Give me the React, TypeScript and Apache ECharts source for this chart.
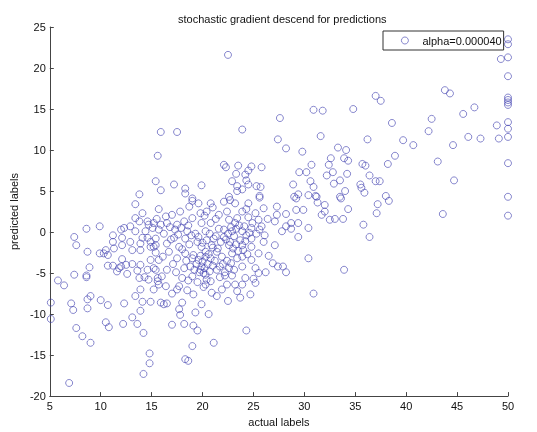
import React, { useEffect, useRef } from "react";
import * as echarts from "echarts";

const titleText = "stochastic gradient descend for predictions";
const xName = "actual labels";
const yName = "predicted labels";
const legendName = "alpha=0.000040";
const xTicks = { min: 5, max: 50, step: 5 };
const yTicks = { min: -20, max: 25, step: 5 };

// [actual, predicted] pairs
const lowRange: number[][] = [
  [15.9, 12.2], [15.6, 9.3], [15.4, 6.2], [13.8, 4.6], [15.9, 5.1],
  [13.4, 3.4], [15.7, 2.8], [14.1, 2.3], [13.4, 1.7], [13.8, 1.3], [14.6, 1.3], [14.7, 0.9], [15.5, 1.6], [15.9, 0.9], [12.9, 0.7], [12.0, 0.3], [12.3, 0.5], [9.9, 0.7], [8.6, 0.4], [13.4, 0.1], [14.4, 0.1], [15.1, 0.5],
  [11.2, -0.4], [12.1, -0.7], [14.1, -0.7], [14.6, -0.7], [7.4, -0.6], [11.2, -1.2], [12.9, -1.2], [13.9, -1.4], [14.9, -1.2], [7.6, -1.6], [14.9, -1.8], [15.4, -1.6], [12.1, -1.6], [11.3, -2.0], [10.5, -2.2], [13.1, -2.2], [13.9, -2.2], [8.7, -2.4], [10.3, -2.6], [10.7, -2.8], [9.9, -2.6], [15.4, -2.5],
  [14.9, -3.4], [12.1, -3.3], [13.1, -3.9], [13.9, -4.0], [12.5, -4.0], [10.7, -4.1], [11.2, -4.1], [8.9, -4.3], [11.8, -4.4], [12.0, -4.2], [11.6, -4.8], [12.6, -5.1], [13.6, -4.7], [14.6, -4.6], [15.4, -4.6], [7.4, -5.2], [8.6, -5.3], [8.6, -5.5], [5.8, -5.9], [6.4, -6.5], [13.8, -5.6], [14.3, -5.5], [14.7, -5.8], [15.6, -6.0], [15.7, -6.4], [15.2, -7.0], [13.9, -7.0], [13.4, -7.8], [9.0, -7.8], [8.7, -8.2], [10.0, -8.3], [5.1, -8.6], [7.1, -8.7], [10.7, -8.9], [12.3, -8.7], [14.1, -8.5], [14.9, -8.5], [15.9, -8.6], [7.3, -9.5], [8.7, -9.3], [13.9, -9.6], [13.1, -10.4], [5.1, -10.6], [10.5, -11.0], [10.8, -11.6], [12.2, -11.2], [13.6, -11.2], [7.6, -11.7], [14.2, -12.3], [8.2, -12.7], [9.0, -13.5], [14.8, -14.8], [14.8, -16.0], [14.2, -17.3], [6.9, -18.4],
];

const midUpper: number[][] = [
  [22.5, 21.6], [17.5, 12.2], [23.9, 12.5], [27.6, 13.9], [27.4, 11.3], [22.1, 8.2], [22.3, 7.9], [23.5, 8.1], [24.8, 8.0], [25.8, 7.9], [24.5, 7.5], [24.2, 7.0], [23.3, 7.1], [22.9, 6.2], [24.3, 6.3], [17.2, 5.8], [19.9, 5.7], [18.3, 5.3], [23.4, 5.6], [23.9, 5.2], [24.5, 5.8], [25.3, 5.6], [25.7, 5.5], [18.3, 4.7], [22.6, 4.3], [25.6, 4.4], [19.0, 4.1],
];

const midCluster: number[][] = [
  [23.4, 5.0], [25.6, 4.2], [19.0, 3.8], [19.6, 3.5], [20.8, 3.5], [22.1, 3.7], [22.7, 3.9], [23.2, 3.5], [24.5, 3.5], [17.8, 2.5], [19.8, 2.3], [20.4, 2.5], [21.6, 2.1], [22.4, 2.5], [23.9, 2.5], [24.3, 2.8], [25.2, 2.3], [27.3, 3.1], [27.3, 2.1], [16.4, 1.9], [17.0, 2.1], [19.0, 1.7], [18.2, 1.3], [22.6, 1.5], [23.4, 1.7], [24.5, 1.8], [25.5, 1.5], [27.1, 1.3], [15.2, 1.1], [16.5, 1.1], [17.5, 0.9], [19.9, 1.1], [20.8, 1.1], [22.1, 0.3], [23.9, 0.1], [24.8, 0.5], [25.8, 0.7], [15.7, 0.3], [17.3, 0.3], [18.5, 0.1], [19.3, -0.2], [20.3, 0.1], [22.9, 0.1], [24.3, -0.4], [25.3, -0.2], [15.4, -0.8], [17.2, -0.7], [18.3, -0.8], [19.5, -1.2], [20.4, -1.0], [21.1, -0.8], [22.1, -0.6], [23.7, -1.0], [24.8, -0.8], [26.0, -1.2], [15.2, -1.8], [16.5, -1.4], [17.7, -1.8], [19.9, -1.8], [20.9, -1.6], [22.6, -1.6], [23.9, -1.6], [24.8, -1.8], [27.1, -1.6], [16.7, -2.4], [18.3, -2.6], [19.1, -2.8], [20.3, -2.4], [21.4, -2.4], [22.9, -2.6], [23.9, -3.0], [25.5, -2.6], [15.7, -3.4], [17.5, -3.2], [19.0, -3.2], [19.6, -3.4], [20.8, -3.2], [21.9, -3.0], [23.4, -3.2], [24.8, -3.4], [26.9, -3.8], [27.4, -4.2], [15.2, -4.4], [16.5, -4.6], [18.2, -4.4], [18.8, -4.2], [19.9, -4.2], [19.8, -4.6], [21.7, -4.2], [22.6, -4.4], [23.9, -4.2], [25.2, -4.4], [15.6, -5.6], [16.0, -5.4], [18.0, -5.6], [19.0, -5.4], [20.3, -5.2], [20.4, -5.8], [22.2, -5.3], [22.9, -5.3], [25.5, -5.0], [16.4, -6.6], [17.7, -6.6], [20.3, -6.4], [22.4, -6.4], [23.2, -6.4], [23.9, -6.4], [25.2, -6.2], [17.0, -7.5], [17.5, -7.0], [20.1, -6.7], [20.9, -7.4], [21.4, -7.8], [24.7, -7.6], [23.7, -8.0], [16.5, -8.7], [18.0, -8.6], [19.9, -8.8], [16.2, -8.8], [17.7, -9.4], [17.8, -10.1], [19.3, -9.8], [20.6, -10.0], [17.0, -11.3], [18.2, -11.2], [19.1, -11.4], [19.5, -12.0], [24.3, -12.0], [21.1, -13.5], [19.0, -13.9], [18.3, -15.5], [18.6, -15.7],
];

const midDense: number[][] = [
  [19.4, -3.9], [19.7, -4.9], [20.0, -3.6], [20.2, -4.4], [20.5, -3.9], [20.1, -5.0], [19.2, -4.6], [20.7, -4.8], [21.0, -4.1], [20.3, -3.0], [19.8, -2.9], [20.6, -2.7], [21.2, -3.5], [21.5, -2.0], [21.0, -1.9], [20.0, -1.3], [19.6, -0.6], [20.7, -0.2], [21.3, -0.5], [21.6, 0.4], [21.8, -1.2], [22.3, -0.9], [22.5, -0.2], [22.8, 0.6], [23.1, -0.5], [23.3, 0.4], [23.6, 0.8], [23.2, 1.1], [22.7, -1.2], [23.0, -2.0], [23.5, -2.3], [23.3, -1.5], [24.0, -2.2], [24.2, -1.1], [24.6, -0.1], [24.1, 0.7], [24.9, 1.1], [24.4, -2.7], [22.4, -3.5], [22.0, -3.9], [22.8, -3.8], [23.1, -4.6], [22.2, -4.9], [21.4, -4.6], [21.7, -5.5], [20.8, -6.0], [19.5, -6.1], [18.6, -5.9], [18.4, -3.5], [18.0, -2.1], [18.7, -1.5], [18.9, -0.4], [17.9, 0.5], [18.6, 0.8], [17.6, -0.3], [16.9, -0.9], [16.2, -0.2], [16.8, 0.6], [16.1, -3.0], [17.1, -3.9], [17.4, -4.9], [18.5, -7.1], [19.1, -7.6], [21.9, -7.0], [22.5, -8.4], [23.4, -7.2], [24.2, -5.6], [25.0, -5.7], [26.2, -4.9], [26.5, -2.9], [26.1, -0.4], [25.6, 0.3], [26.4, 1.6], [26.0, 2.9], [21.3, 1.6], [20.2, 2.0], [21.0, 3.0], [18.7, 3.1],
];

const highRange: number[][] = [
  [37.0, 16.6], [37.5, 16.0], [30.9, 14.9], [31.8, 14.8], [34.8, 15.0], [38.6, 13.3], [28.2, 10.2], [29.8, 9.8], [31.6, 11.7], [36.2, 11.3], [33.3, 10.3], [34.1, 10.0], [33.9, 9.0], [34.3, 8.7], [32.6, 9.0], [30.7, 8.2], [32.4, 8.2], [35.7, 8.3], [36.0, 8.1], [38.2, 8.3], [38.9, 9.3], [29.5, 7.3], [30.2, 7.3], [32.8, 7.3], [34.2, 7.1], [36.4, 6.9], [37.0, 6.2], [37.4, 6.2], [28.9, 5.8], [30.6, 6.2], [30.9, 5.5], [32.2, 6.9], [32.9, 5.9], [33.5, 6.3], [35.5, 5.8], [35.6, 5.4], [35.9, 4.8], [34.0, 5.0], [29.4, 4.6], [30.4, 4.5], [31.1, 4.4], [38.0, 4.4], [33.5, 4.3], [29.0, 4.3],
  [29.2, 4.1], [31.2, 4.3], [38.3, 3.8], [33.6, 4.1], [31.3, 3.6], [32.0, 3.3], [37.2, 3.4], [29.2, 2.7], [29.9, 2.7], [32.0, 2.5], [34.3, 2.8], [37.1, 2.3], [28.2, 2.2], [31.7, 2.1], [32.5, 1.5], [33.0, 1.6], [33.8, 1.6], [28.7, 1.1], [29.4, 1.1], [28.2, 0.7], [28.7, 0.4], [30.4, 0.5], [27.8, 0.1], [35.8, 0.9], [29.4, -0.6], [36.4, -0.6], [30.4, -3.2], [28.2, -4.9], [27.9, -4.2], [33.9, -4.6], [30.9, -7.5],
];

const topRange: number[][] = [
  [43.8, 17.3], [44.3, 16.9], [46.7, 15.2], [45.6, 14.4], [42.5, 13.8], [48.9, 13.0], [42.2, 12.3], [46.1, 11.6], [47.3, 11.4], [49.1, 11.4], [49.3, 21.1], [39.7, 11.2], [40.7, 10.6], [44.6, 10.6], [43.1, 8.6], [44.7, 6.3], [43.6, 2.2],
];

const cappedAt50: number[][] = [
  [50, 23.5], [50, 22.9], [50, 21.3], [50, 19.0], [50, 16.4], [50, 16.1], [50, 15.8], [50, 15.5], [50, 13.4], [50, 12.6], [50, 11.6], [50, 8.4], [50, 4.3], [50, 2.0],
];

const FONT = "'Liberation Sans', Arial, sans-serif";
const MARK = "#4242b0";

export default function App() {
  const ref = useRef<HTMLDivElement>(null);
  useEffect(() => {
    if (!ref.current) return;
    const chart = echarts.init(ref.current, undefined, { renderer: "svg" });
    const points = [...lowRange, ...midUpper, ...midCluster, ...midDense, ...highRange, ...topRange, ...cappedAt50];
    const axisCommon = {
      type: "value",
      nameLocation: "middle",
      nameTextStyle: { fontSize: 11, color: "#111", fontFamily: FONT },
      axisLine: { show: true, onZero: false, lineStyle: { color: "#444", width: 1 } },
      axisTick: { show: true, inside: true, length: 4, lineStyle: { color: "#444" } },
      axisLabel: { fontSize: 11, color: "#111", fontFamily: FONT },
      splitLine: { show: false },
    };
    chart.setOption({
      animation: false,
      textStyle: { fontFamily: FONT },
      title: {
        text: titleText,
        left: 173,
        top: 8,
        textStyle: { fontSize: 11, fontWeight: "normal", color: "#111", fontFamily: FONT },
      },
      legend: {
        data: [legendName],
        left: 383,
        top: 31,
        icon: "circle",
        itemWidth: 25,
        itemHeight: 7,
        symbolKeepAspect: true,
        padding: [4, 2, 4, 18],
        borderColor: "#333",
        borderWidth: 1,
        itemStyle: { color: "transparent", borderColor: MARK, borderWidth: 0.8 },
        textStyle: { fontSize: 11, color: "#111", fontFamily: FONT },
      },
      grid: { left: 47, right: 29, top: 27, bottom: 33, containLabel: false },
      xAxis: {
        ...axisCommon,
        min: xTicks.min,
        max: xTicks.max,
        interval: xTicks.step,
        name: xName,
        nameGap: 18,
        axisLabel: { ...axisCommon.axisLabel, margin: 4 },
      },
      yAxis: {
        ...axisCommon,
        min: yTicks.min,
        max: yTicks.max,
        interval: yTicks.step,
        name: yName,
        nameGap: 26,
        nameRotate: 90,
        axisLabel: { ...axisCommon.axisLabel, margin: 4 },
      },
      series: [
        {
          name: legendName,
          type: "scatter",
          data: points,
          symbol: "circle",
          symbolSize: 7,
          itemStyle: { color: "transparent", borderColor: MARK, borderWidth: 0.8 },
        },
      ],
    });
    return () => chart.dispose();
  }, []);
  return <div ref={ref} style={{ position: "fixed", left: 0, top: 0, width: 537, height: 432 }} />;
}
